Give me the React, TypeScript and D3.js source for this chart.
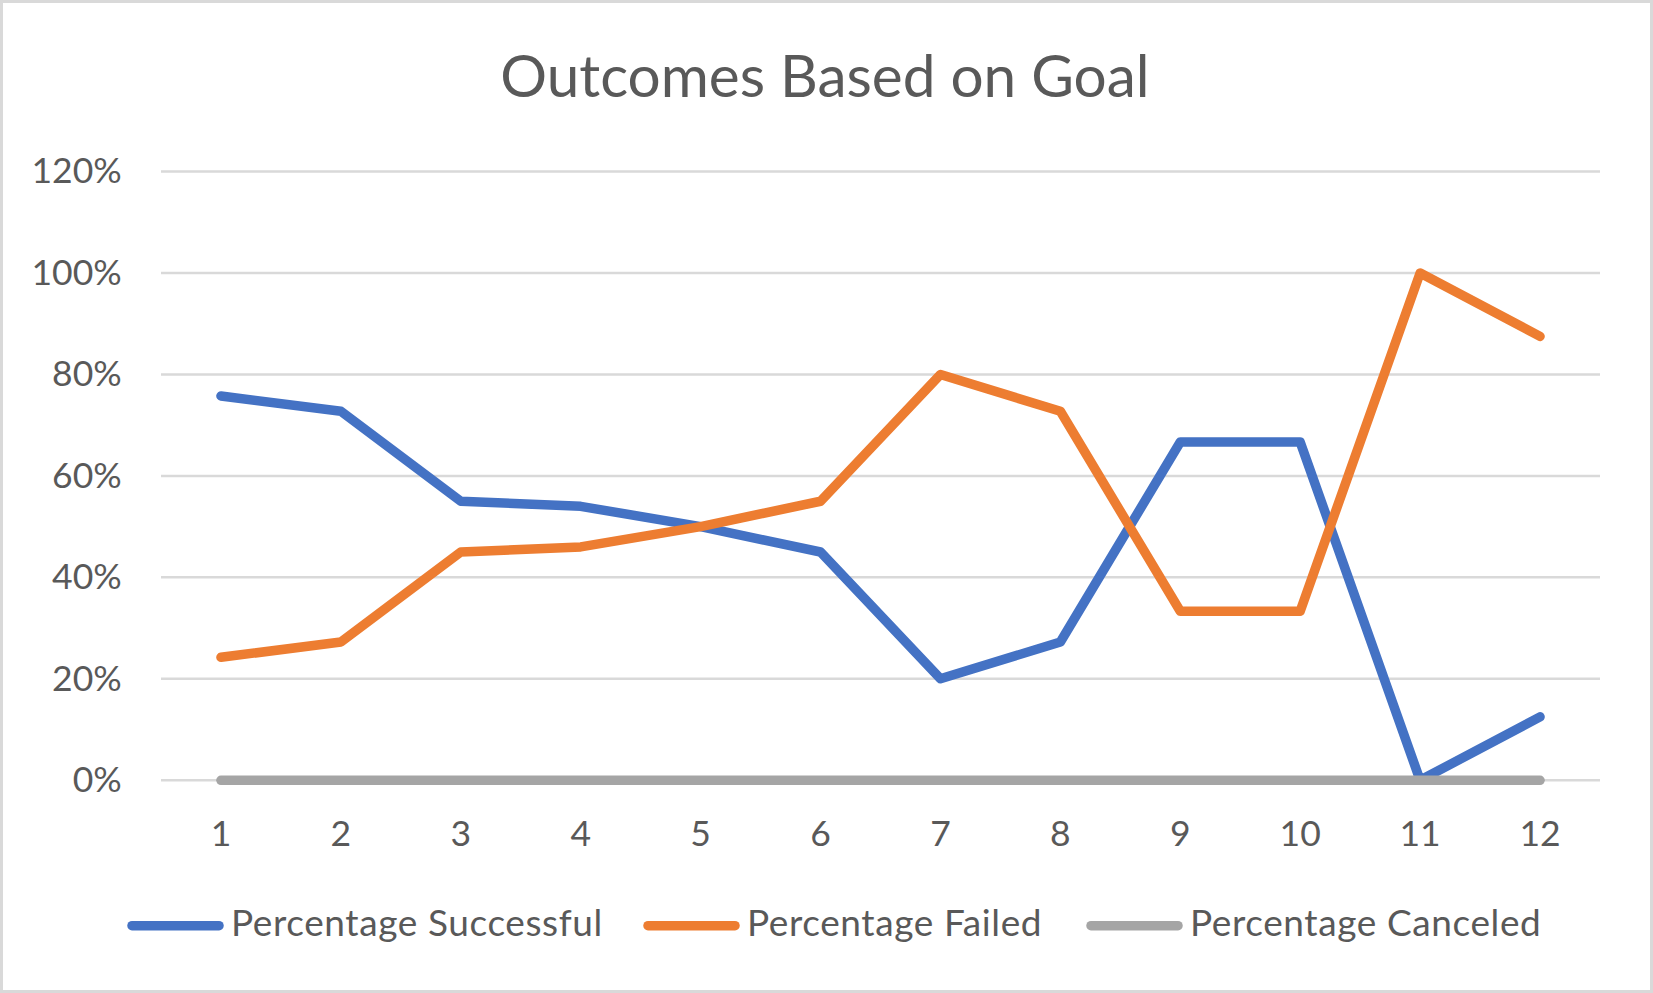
import React, { useEffect, useRef } from 'react';
import * as d3 from 'd3';

const categories = ['1', '2', '3', '4', '5', '6', '7', '8', '9', '10', '11', '12'];
const percentageSuccessful = [0.7576, 0.7273, 0.55, 0.54, 0.5, 0.45, 0.2, 0.2727, 0.6667, 0.6667, 0, 0.125];
const percentageFailed = [0.2424, 0.2727, 0.45, 0.46, 0.5, 0.55, 0.8, 0.7273, 0.3333, 0.3333, 1.0, 0.875];
const percentageCanceled = [0, 0, 0, 0, 0, 0, 0, 0, 0, 0, 0, 0];
const yTicks = [0, 0.2, 0.4, 0.6, 0.8, 1.0, 1.2];
const seriesNames = ['Percentage Successful', 'Percentage Failed', 'Percentage Canceled'];
const seriesColors = ['#4472C4', '#ED7D31', '#A5A5A5'];
const chartTitle = 'Outcomes Based on Goal';

const W = 1653;
const H = 993;
const FONT = 'Lato, "Open Sans", sans-serif';
const TEXT = '#595959';

export default function App() {
  const ref = useRef<SVGSVGElement>(null);

  useEffect(() => {
    document.body.style.margin = '0';
    const svg = d3.select(ref.current);
    svg.selectAll('*').remove();

    const plot = { left: 161, right: 1600, top: 171.5, bottom: 780.3 };

    svg.append('rect').attr('x', 0).attr('y', 0).attr('width', W).attr('height', H).attr('fill', '#ffffff');
    svg.append('rect').attr('x', 1.5).attr('y', 1.5).attr('width', W - 3).attr('height', H - 3)
      .attr('fill', 'none').attr('stroke', '#d9d9d9').attr('stroke-width', 3);

    const x = d3.scalePoint<string>().domain(categories).range([plot.left, plot.right]).padding(0.5);
    const y = d3.scaleLinear().domain([0, 1.2]).range([plot.bottom, plot.top]);

    // title
    svg.append('text').attr('x', 825).attr('y', 97.3).attr('text-anchor', 'middle')
      .attr('font-family', FONT).attr('font-size', 58.5).attr('fill', TEXT).text(chartTitle);

    // gridlines
    svg.append('g').selectAll('line').data(yTicks).join('line')
      .attr('x1', plot.left).attr('x2', plot.right)
      .attr('y1', d => y(d)).attr('y2', d => y(d))
      .attr('stroke', '#d9d9d9').attr('stroke-width', 2.5);

    // y labels
    const fmt = d3.format('.0%');
    svg.append('g').selectAll('text').data(yTicks).join('text')
      .attr('x', 121.7).attr('y', d => y(d) + 11.8).attr('text-anchor', 'end')
      .attr('font-family', FONT).attr('font-size', 35.5).attr('fill', TEXT)
      .text(d => fmt(d));

    // x labels
    svg.append('g').selectAll('text').data(categories).join('text')
      .attr('x', d => x(d) as number).attr('y', 845.7).attr('text-anchor', 'middle')
      .attr('font-family', FONT).attr('font-size', 35.5).attr('fill', TEXT)
      .text(d => d);

    const series = [percentageSuccessful, percentageFailed, percentageCanceled];
    const line = d3.line<number>()
      .x((_, i) => x(categories[i]) as number)
      .y(d => y(d));

    series.forEach((vals, si) => {
      svg.append('path').datum(vals).attr('d', line)
        .attr('fill', 'none').attr('stroke', seriesColors[si]).attr('stroke-width', 9.5)
        .attr('stroke-linecap', 'round').attr('stroke-linejoin', 'round');
    });

    // legend
    const legendStarts = [127, 643, 1086];
    const legendY = 925.7;
    const lg = svg.append('g');
    seriesNames.forEach((name, i) => {
      const sx = legendStarts[i];
      lg.append('line').attr('x1', sx + 5).attr('x2', sx + 92).attr('y1', legendY).attr('y2', legendY)
        .attr('stroke', seriesColors[i]).attr('stroke-width', 9.5).attr('stroke-linecap', 'round');
      lg.append('text').attr('x', sx + 104).attr('y', 936)
        .attr('font-family', FONT).attr('font-size', 37).attr('letter-spacing', 0.6)
        .attr('fill', TEXT).text(name);
    });
  }, []);

  return <svg ref={ref} width={W} height={H} style={{ display: 'block' }} />;
}
